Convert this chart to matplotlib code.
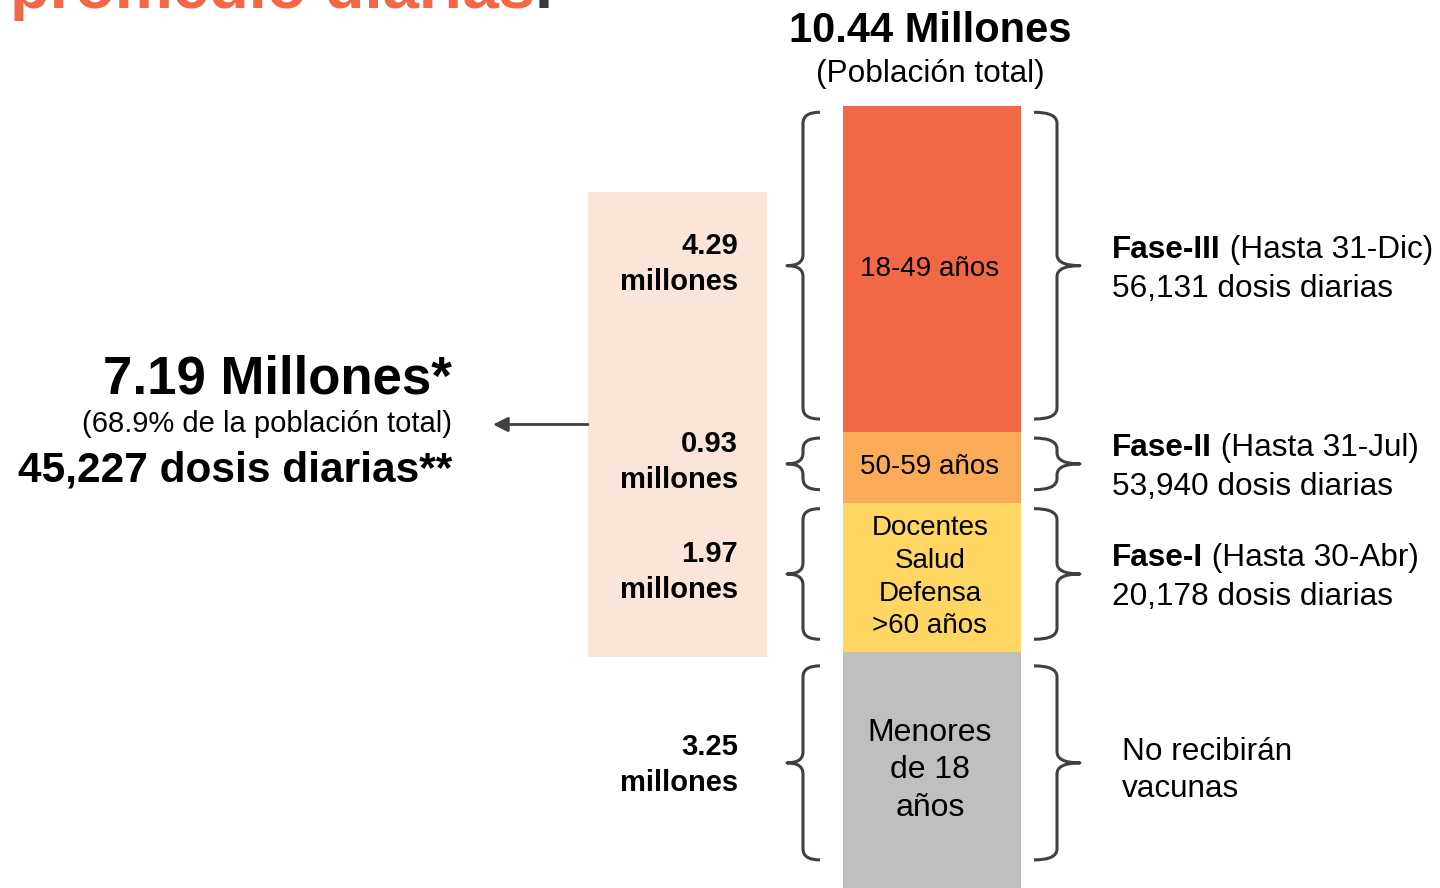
import matplotlib
matplotlib.use('Agg')
import matplotlib.pyplot as plt
from matplotlib.path import Path
from matplotlib.patches import PathPatch, Rectangle

plt.rcParams['font.family'] = ['Liberation Sans', 'DejaVu Sans']

# ---------------- data ----------------
groups = ['Menores\nde 18\naños', 'Docentes\nSalud\nDefensa\n>60 años', '50-59 años', '18-49 años']
values = [3.25, 1.97, 0.93, 4.29]          # millones
colors = ['#BFBFBF', '#FED661', '#F9AB57', '#F26846']
group_fontsize = [23, 20, 20, 20]
phases = [None, 'Fase-I', 'Fase-II', 'Fase-III']
phase_dates = [None, '(Hasta 30-Abr)', '(Hasta 31-Jul)', '(Hasta 31-Dic)']
daily_doses = [None, 20178, 53940, 56131]
no_vaccine_text = 'No recibirán\nvacunas'
total_pop = 10.44
target_pop = 7.19
target_pct = 68.9
avg_daily = 45227
title_text = 'promedio diarias'

# ---------------- layout helpers ----------------
W, H = 1440, 888
PX_PER_M = 75.94
BASE_PX = 899.0


def py(p):
    """layout pixel (from top) -> data y (millions)"""
    return (BASE_PX - p) / PX_PER_M


fig = plt.figure(figsize=(W / 100, H / 100), dpi=100)
ax = fig.add_axes([0, 0, 1, 1])
ax.set_xlim(0, W)
Y0, Y1 = py(H), py(0)
ax.set_ylim(Y0, Y1)
ax.axis('off')

BLACK = '#000000'
BRACE = '#404040'

# peach background box
box_top, box_bot = py(192), py(657)
ax.add_patch(Rectangle((588, box_bot), 179, box_top - box_bot,
                       facecolor='#FAE5D8', edgecolor='none', zorder=0))

# stacked bar
bar_x, bar_w = 932, 178
bottoms = []
acc = 0.0
for v in values:
    bottoms.append(acc)
    acc += v
ax.bar([bar_x] * len(values), values, bottom=bottoms, width=bar_w,
       color=colors, edgecolor='none', zorder=2)


def brace(x_end, x_spine, x_tip, y_lo, y_hi, r_px=11):
    r = r_px / PX_PER_M
    ym = (y_lo + y_hi) / 2
    verts = [(x_end, y_hi), (x_spine, y_hi), (x_spine, y_hi - r),
             (x_spine, ym + r),
             (x_spine, ym), (x_tip, ym),
             (x_spine, ym), (x_spine, ym - r),
             (x_spine, y_lo + r),
             (x_spine, y_lo), (x_end, y_lo)]
    codes = [Path.MOVETO, Path.CURVE3, Path.CURVE3,
             Path.LINETO,
             Path.CURVE3, Path.CURVE3,
             Path.CURVE3, Path.CURVE3,
             Path.LINETO,
             Path.CURVE3, Path.CURVE3]
    ax.add_patch(PathPatch(Path(verts, codes), facecolor='none',
                           edgecolor=BRACE, lw=2.2, capstyle='butt',
                           joinstyle='round', zorder=3))


fig.canvas.draw()
renderer = fig.canvas.get_renderer()


def rich_line(x, y, parts, size):
    cx = x
    for txt, weight in parts:
        t = ax.text(cx, y, txt, fontsize=size, fontweight=weight, color=BLACK,
                    ha='left', va='baseline', zorder=4)
        bb = t.get_window_extent(renderer=renderer)
        cx += bb.width


for i, (g, v, b) in enumerate(zip(groups, values, bottoms)):
    lo, hi = b, b + v
    lo_vis = max(lo, Y0)
    yc = (lo_vis + hi) / 2
    # bar label
    ax.text(bar_x - 2, yc, g, ha='center', va='center', fontsize=group_fontsize[i],
            color=BLACK, linespacing=1.33, multialignment='center', zorder=4)
    # left value label
    ax.text(738, yc + 5 / PX_PER_M, f'{v:.2f}\nmillones', ha='right', va='center',
            fontsize=21, fontweight='bold', color=BLACK, linespacing=1.36,
            multialignment='right', zorder=4)
    # braces
    b_hi = hi - (0.08 if lo > Y0 + 0.2 else 0.18)
    b_lo = (max(lo, Y0 + 0.2) + 0.17) if lo < Y0 + 0.2 else lo + 0.17
    brace(820, 803, 787, b_lo, b_hi)
    brace(1034, 1057, 1080, b_lo, b_hi)
    # right texts
    yc_px = BASE_PX - yc * PX_PER_M
    if phases[i] is None:
        ax.text(1122, yc, no_vaccine_text, ha='left', va='center', fontsize=22.7,
                color=BLACK, linespacing=1.3, zorder=4)
    else:
        l1 = py(yc_px - 19.5 + 8)
        l2 = py(yc_px + 19.5 + 8)
        rich_line(1112, l1, [(phases[i], 'bold'), (' ' + phase_dates[i], 'normal')], 22.7)
        rich_line(1112, l2, [(f'{daily_doses[i]:,} dosis diarias', 'normal')], 22.7)

# top texts
ax.text(bar_x - 2, py(42), f'{total_pop:.2f} Millones', ha='center', va='baseline',
        fontsize=30, fontweight='bold', color=BLACK)
ax.text(bar_x - 2, py(82), '(Población total)', ha='center', va='baseline',
        fontsize=22.8, color=BLACK)

# left summary
ax.text(452, py(394), f'{target_pop:.2f} Millones*', ha='right', va='baseline',
        fontsize=38, fontweight='bold', color=BLACK)
ax.text(452, py(432), f'({target_pct:.1f}% de la población total)', ha='right',
        va='baseline', fontsize=21, color=BLACK)
ax.text(452, py(481), f'{avg_daily:,} dosis diarias**', ha='right', va='baseline',
        fontsize=30.5, fontweight='bold', color=BLACK)

# arrow from the box
arrow_y = (box_top + box_bot) / 2
ax.annotate('', xy=(493, arrow_y), xytext=(588, arrow_y),
            arrowprops=dict(arrowstyle='-|>', color=BRACE, lw=2,
                            mutation_scale=22, shrinkA=0, shrinkB=0))

# clipped title at the very top (cut off in the reference as well)
t = ax.text(10, py(8), title_text, ha='left', va='baseline', fontsize=47,
            fontweight='bold', color='#F26846', clip_on=False)
bb = t.get_window_extent(renderer=renderer)
ax.text(10 + bb.width, py(8), '.', ha='left', va='baseline', fontsize=47,
        fontweight='bold', color='#3A3A3A')

fig.savefig('out.png', dpi=100, facecolor='white')
